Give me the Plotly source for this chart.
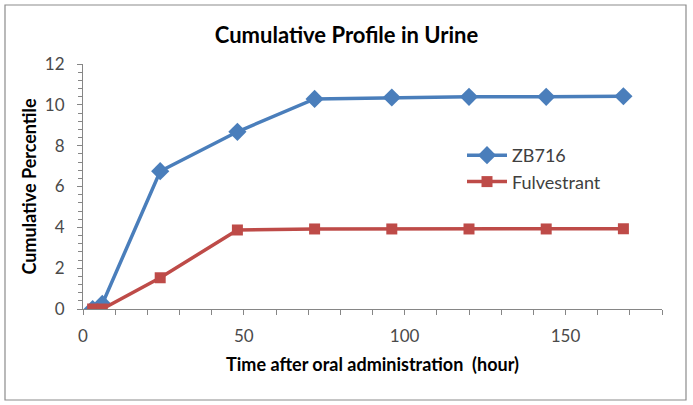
import plotly.graph_objects as go

hours = [3, 6, 24, 48, 72, 96, 120, 144, 168]
zb716 = [0.0, 0.25, 6.75, 8.68, 10.29, 10.36, 10.39, 10.39, 10.42]
fulvestrant = [0.0, 0.0, 1.53, 3.87, 3.92, 3.92, 3.92, 3.92, 3.93]
x_tick_vals = [0, 50, 100, 150]
y_tick_vals = [0, 2, 4, 6, 8, 10, 12]

W, H = 693, 405
L, R, T, B = 83, 31, 64, 96
pw, ph = W - L - R, H - T - B

def px2x(p):
    return (p - L) / pw

def py2y(p):
    return (H - B - p) / ph

FONT = "Lato"
fig = go.Figure()
fig.add_trace(go.Scatter(
    x=hours, y=zb716, name="ZB716", mode="lines+markers",
    line=dict(color="#4A7EBB", width=3.5),
    marker=dict(symbol="diamond", size=14, color="#4A7EBB"),
))
fig.add_trace(go.Scatter(
    x=hours, y=fulvestrant, name="Fulvestrant", mode="lines+markers",
    line=dict(color="#BE4B48", width=3.5),
    marker=dict(symbol="square", size=11, color="#BE4B48"),
))

axis_common = dict(
    showgrid=False, zeroline=False, showline=True, linecolor="#868686", linewidth=1,
    ticks="outside", ticklen=5, tickcolor="#868686",
    tickfont=dict(family=FONT, size=17, color="#4A4A4A"),
)
fig.update_xaxes(
    range=[0, 180], tickvals=x_tick_vals, ticklabelstandoff=7,
    minor=dict(dtick=10, ticks="outside", ticklen=5, tickcolor="#868686"),
    title=dict(text="Time after oral administration  (hour)",
               font=dict(family=FONT, size=18, color="#000000", weight="bold"), standoff=12),
    **axis_common,
)
fig.update_yaxes(
    range=[0, 12], tickvals=y_tick_vals, ticklabelstandoff=9,
    minor=dict(dtick=0.4, ticks="outside", ticklen=4, tickcolor="#868686"),
    title=dict(text="Cumulative Percentile",
               font=dict(family=FONT, size=18, color="#000000", weight="bold"), standoff=3),
    **axis_common,
)
fig.update_layout(
    width=W, height=H, margin=dict(l=L, r=R, t=T, b=B, autoexpand=False),
    paper_bgcolor="white", plot_bgcolor="white",
    title=dict(text="<b>Cumulative Profile in Urine</b>", x=0.5, xanchor="center",
               y=1 - 35 / H, yanchor="middle",
               font=dict(family=FONT, size=22, color="#000000")),
    legend=dict(x=px2x(462), y=py2y(137), xanchor="left", yanchor="top",
                font=dict(family=FONT, size=18, color="#404040"),
                bgcolor="rgba(0,0,0,0)", itemwidth=40, tracegroupgap=4),
    showlegend=True,
    shapes=[dict(type="rect", xref="paper", yref="paper",
                 x0=px2x(5), x1=px2x(686), y0=py2y(400), y1=py2y(5),
                 line=dict(color="#8C8C8C", width=1.2), layer="below")],
)
fig.write_html("out.html", config={"displayModeBar": False},
               post_script="document.body.style.margin='0';")
